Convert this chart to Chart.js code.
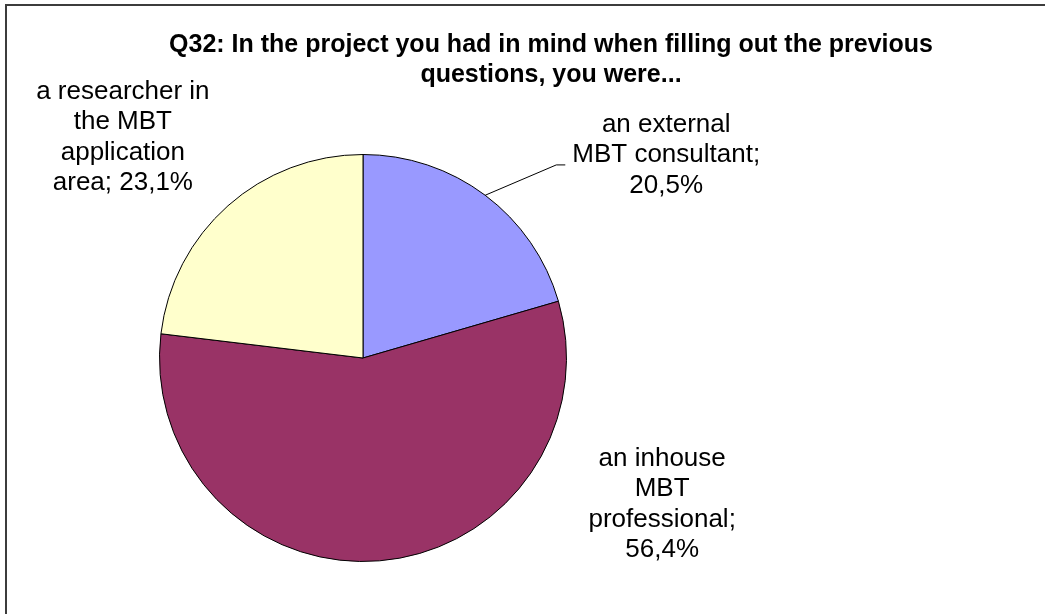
<!DOCTYPE html>
<html>
<head>
<meta charset="utf-8">
<script src="https://cdn.jsdelivr.net/npm/chart.js@4/dist/chart.umd.min.js"></script>
<style>
  html, body { margin: 0; padding: 0; background: #ffffff; }
  #wrap { position: relative; width: 1045px; height: 614px; }
  canvas { display: block; }
</style>
</head>
<body>
<div id="wrap"><canvas id="pie" width="1045" height="614"></canvas></div>
<script>
// Survey answers, Q32
const titleLines = [
  'Q32: In the project you had in mind when filling out the previous',
  'questions, you were...'
];
const categories = [
  ['an external', 'MBT consultant;'],
  ['an inhouse', 'MBT', 'professional;'],
  ['a researcher in', 'the MBT', 'application', 'area;']
];
const shares = [20.5, 56.4, 23.1];
const sliceColors = ['#9999FF', '#993366', '#FFFFCC'];

// Label block centres, in units of the pie radius from the pie centre
const labelOffsets = [[1.49, -0.998], [1.47, 0.718], [-1.18, -1.085]];
const lineHeight = 30.5;

function pct(v) { return v.toFixed(1).replace('.', ',') + '%'; }

// Frame and title
const framePlugin = {
  id: 'frameTitle',
  beforeDraw(chart) {
    const ctx = chart.ctx;
    ctx.save();
    ctx.fillStyle = '#ffffff';
    ctx.fillRect(0, 0, chart.width, chart.height);
    ctx.strokeStyle = '#3c3c3c';
    ctx.lineWidth = 2;
    ctx.beginPath();
    ctx.moveTo(6, chart.height);
    ctx.lineTo(6, 5);
    ctx.lineTo(chart.width, 5);
    ctx.stroke();
    ctx.restore();
  },
  afterDraw(chart) {
    const ctx = chart.ctx;
    ctx.save();
    ctx.fillStyle = '#000000';
    ctx.font = 'bold 25px "Liberation Sans", Arial, sans-serif';
    ctx.textAlign = 'center';
    ctx.textBaseline = 'alphabetic';
    titleLines.forEach((t, i) => ctx.fillText(t, 551, 52 + i * 30));
    ctx.restore();
  }
};

// Category labels with value, plus the leader line of the first slice
const labelPlugin = {
  id: 'sliceLabels',
  afterDatasetsDraw(chart) {
    const ctx = chart.ctx;
    const meta = chart.getDatasetMeta(0);
    ctx.save();
    ctx.font = '26px "Liberation Sans", Arial, sans-serif';
    ctx.fillStyle = '#000000';
    ctx.textAlign = 'center';
    ctx.textBaseline = 'middle';
    meta.data.forEach((arc, i) => {
      const r = arc.outerRadius;
      let blockLines;
      if (i === 2) {
        // value shares the last line here
        blockLines = categories[i].slice(0, -1)
          .concat([categories[i][categories[i].length - 1] + ' ' + pct(shares[i])]);
      } else {
        blockLines = categories[i].concat([pct(shares[i])]);
      }
      const cx = arc.x + labelOffsets[i][0] * r;
      const cy = arc.y + labelOffsets[i][1] * r;
      const top = cy - (blockLines.length - 1) * lineHeight / 2;
      blockLines.forEach((t, k) => ctx.fillText(t, cx, top + k * lineHeight));
      if (i === 0) {
        const mid = (arc.startAngle + arc.endAngle) / 2;
        const sx = arc.x + Math.cos(mid) * r;
        const sy = arc.y + Math.sin(mid) * r;
        const textW = Math.max(...blockLines.map(t => ctx.measureText(t).width));
        const ey = top + lineHeight + 10;
        const ex = cx - textW / 2 - 7;
        ctx.strokeStyle = '#000000';
        ctx.lineWidth = 1;
        ctx.beginPath();
        ctx.moveTo(sx, sy);
        ctx.lineTo(ex - 9, ey);
        ctx.lineTo(ex, ey);
        ctx.stroke();
      }
    });
    ctx.restore();
  }
};

new Chart(document.getElementById('pie'), {
  type: 'pie',
  data: {
    labels: categories.map(c => c.join(' ')),
    datasets: [{
      data: shares,
      backgroundColor: sliceColors,
      borderColor: '#000000',
      borderWidth: 1
    }]
  },
  options: {
    responsive: false,
    animation: false,
    layout: { padding: { left: 159, right: 478, top: 154, bottom: 52 } },
    plugins: {
      legend: { display: false },
      tooltip: { enabled: false },
      title: { display: false }
    }
  },
  plugins: [framePlugin, labelPlugin]
});
</script>
</body>
</html>
